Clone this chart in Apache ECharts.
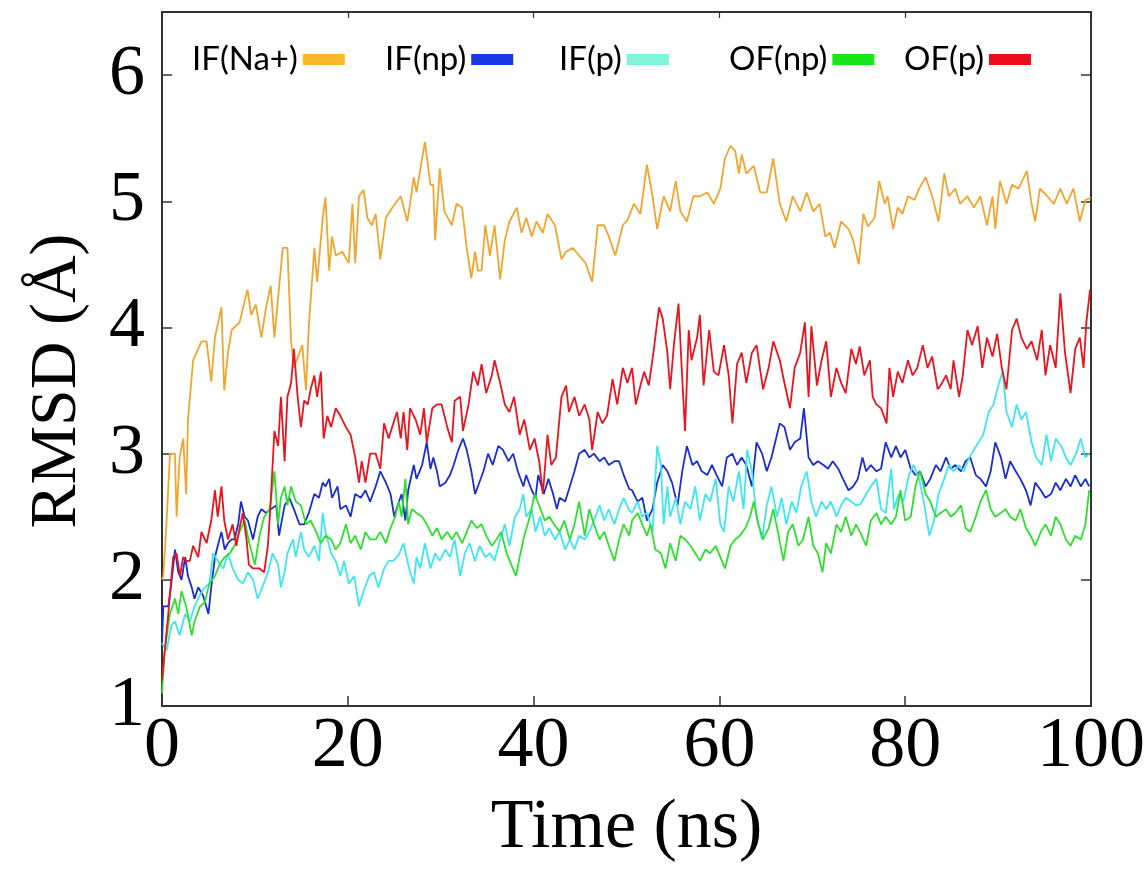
<!DOCTYPE html>
<html>
<head>
<meta charset="utf-8">
<script src="https://cdn.jsdelivr.net/npm/echarts@6/dist/echarts.min.js"></script>
<style>
  html, body { margin: 0; padding: 0; background: #fff; }
  #chart { width: 1148px; height: 869px; }
</style>
</head>
<body>
<div id="chart"></div>
<script>
// RMSD traces, [time (ns), RMSD (Å)]
const ifNaPlus = [[0,2.0],[0.14,2.03],[0.5,2.47],[0.86,3.0],[1.39,3.0],[1.57,2.5],[1.9,2.97],[2.28,3.12],[2.6,2.68],[2.8,3.27],[3.35,3.74],[3.9,3.83],[4.25,3.89],[4.8,3.89],[5.3,3.57],[5.7,3.92],[6.4,4.16],[6.7,3.5],[7.1,3.8],[7.5,3.98],[8.35,4.04],[9.2,4.3],[9.6,4.1],[10.1,4.18],[10.7,3.92],[11.2,4.16],[11.7,4.33],[12.1,3.92],[13,4.63],[13.5,4.63],[13.9,3.89],[14.2,3.68],[14.8,3.8],[15.1,3.86],[15.5,3.5],[15.8,4.01],[16.4,4.63],[16.7,4.36],[17.3,4.87],[17.6,5.03],[18,4.45],[18.3,4.72],[18.7,4.57],[19.4,4.6],[20.1,4.51],[20.5,4.98],[20.8,4.51],[21.2,5.04],[21.7,5.09],[22.1,4.87],[22.6,4.81],[23,4.9],[23.5,4.54],[24.1,4.87],[24.8,4.95],[25.7,5.04],[26.4,4.84],[26.7,4.98],[27.1,5.19],[27.4,5.07],[28,5.34],[28.3,5.47],[28.5,5.46],[28.9,5.13],[29.2,5.13],[29.4,4.69],[29.9,5.26],[30.4,4.92],[31.2,4.81],[31.7,4.98],[32.3,4.95],[32.8,4.63],[33.3,4.39],[33.7,4.6],[34,4.45],[34.4,4.45],[34.8,4.81],[35.3,4.57],[35.8,4.81],[36.4,4.38],[36.9,4.69],[37.4,4.84],[38.2,4.95],[38.7,4.75],[39.2,4.87],[39.8,4.72],[40.3,4.84],[41,4.75],[41.5,4.9],[42.3,4.81],[43,4.54],[43.5,4.6],[44.2,4.63],[44.9,4.57],[45.6,4.51],[46.3,4.36],[46.9,4.81],[47.6,4.81],[48.1,4.72],[48.8,4.57],[49.6,4.81],[50.1,4.85],[50.8,4.98],[51.5,4.9],[52.2,5.29],[52.8,5.04],[53.3,4.78],[54,5.04],[54.7,4.92],[55.3,5.16],[55.8,4.92],[56.5,4.84],[57.2,5.04],[57.9,5.04],[58.7,5.07],[59.4,4.98],[60.1,5.1],[60.6,5.34],[61.2,5.44],[61.7,5.4],[62.1,5.22],[62.4,5.37],[62.9,5.22],[63.7,5.28],[64.4,5.07],[65.1,5.07],[65.8,5.34],[66.5,4.98],[67.2,4.84],[67.9,5.04],[68.7,4.92],[69.4,5.07],[70.1,4.92],[70.8,4.98],[71.4,4.72],[71.9,4.75],[72.4,4.63],[73.1,4.84],[73.9,4.78],[74.4,4.69],[75,4.5],[75.5,4.9],[76,4.8],[76.7,4.87],[77.2,5.16],[77.8,4.98],[78.1,5.04],[78.7,4.78],[79.2,4.95],[79.7,4.9],[80.3,5.04],[81,5.01],[81.5,5.1],[82.2,5.19],[82.9,5.04],[83.6,4.84],[84.2,5.22],[84.7,5.04],[85.4,5.1],[85.9,4.98],[86.7,5.04],[87.4,4.95],[88.1,5.04],[88.8,4.81],[89.4,5.04],[89.7,4.78],[90.2,5.16],[90.9,4.98],[91.5,5.13],[92.2,5.1],[93.1,5.24],[93.6,4.98],[94,4.84],[94.5,5.1],[95.3,5.04],[96,4.98],[96.7,5.1],[97.4,4.98],[98.1,5.1],[98.8,4.84],[99.4,5.01],[100,5.03]];

const ifNp = [[0,1.5],[0.14,1.79],[0.68,1.79],[1,1.97],[1.4,2.24],[1.75,2.06],[2.1,2.0],[2.5,2.18],[2.8,2.03],[3.2,1.94],[3.5,1.85],[3.9,1.94],[4.4,1.88],[5,1.73],[5.3,1.94],[5.7,2.18],[6,2.27],[6.4,2.38],[6.75,2.24],[7.1,2.29],[7.5,2.32],[7.8,2.32],[8.2,2.44],[8.5,2.62],[8.9,2.5],[9.25,2.47],[9.8,2.32],[10.3,2.5],[10.7,2.56],[11.2,2.53],[11.7,2.56],[12.3,2.59],[12.6,2.35],[13.2,2.59],[13.7,2.65],[14.2,2.56],[14.8,2.44],[15.3,2.44],[15.8,2.53],[16.4,2.68],[16.9,2.65],[17.3,2.77],[17.6,2.74],[18,2.8],[18.3,2.65],[18.9,2.74],[19.2,2.56],[19.8,2.59],[20.3,2.5],[20.8,2.68],[21.4,2.65],[21.9,2.71],[22.4,2.62],[23,2.74],[23.5,2.86],[24.1,2.77],[24.6,2.68],[25,2.5],[25.5,2.62],[25.8,2.68],[26.2,2.47],[26.5,2.71],[27.1,2.91],[27.4,2.8],[28,2.91],[28.5,3.09],[28.9,2.88],[29.2,2.97],[29.6,2.86],[29.9,2.74],[30.5,2.77],[31,2.83],[31.4,2.91],[31.9,3.03],[32.4,3.12],[32.8,3.03],[33.3,2.86],[33.7,2.68],[34,2.74],[34.6,2.86],[35.1,3.0],[35.6,2.91],[36.2,3.06],[36.7,3.03],[37.3,2.94],[37.8,3.0],[38.3,2.86],[38.9,2.74],[39.2,2.83],[39.8,2.71],[40.2,2.65],[40.5,2.83],[41.1,2.68],[41.6,2.8],[42.1,2.68],[42.5,2.56],[42.8,2.65],[43.4,2.62],[43.9,2.74],[44.4,2.86],[44.9,3.0],[45.5,3.03],[46,2.97],[46.5,3.0],[47.1,2.94],[47.6,2.97],[48.1,2.91],[48.7,2.94],[49.2,2.94],[49.7,2.83],[50.3,2.72],[50.6,2.71],[51.2,2.62],[51.7,2.65],[52.2,2.47],[52.8,2.56],[53.3,2.77],[53.9,2.91],[54.4,2.86],[54.9,2.77],[55.5,2.59],[56,2.86],[56.5,3.06],[57.1,2.91],[57.6,2.94],[58.1,2.86],[58.7,2.83],[59.2,2.91],[59.7,2.83],[60.3,2.74],[60.8,2.97],[61.4,3.0],[61.9,2.91],[62.4,2.97],[62.9,2.91],[63.5,2.74],[64,3.09],[64.6,3.0],[65.1,2.86],[65.6,2.97],[66.2,3.15],[66.5,3.24],[67,3.21],[67.6,3.03],[68.1,3.09],[68.7,3.12],[69.1,3.36],[69.6,2.97],[70.1,2.91],[70.6,2.94],[71.2,2.91],[71.7,2.88],[72.2,2.94],[72.8,2.88],[73.3,2.8],[73.9,2.71],[74.4,2.74],[74.9,2.8],[75.4,2.97],[75.8,2.86],[76.3,2.91],[76.9,2.86],[77.4,2.88],[77.9,3.09],[78.5,2.97],[79,3.06],[79.5,2.97],[80,3.03],[80.6,2.88],[81.1,2.83],[81.6,2.86],[82.2,2.74],[82.7,2.8],[83.3,2.91],[83.8,2.86],[84.4,2.97],[84.9,2.88],[85.4,2.91],[86,2.86],[86.5,2.94],[87,2.97],[87.6,2.83],[88.1,2.8],[88.7,2.74],[89.2,2.86],[89.7,3.09],[90.3,2.97],[90.8,2.8],[91.3,2.94],[91.9,2.86],[92.4,2.8],[93,2.71],[93.5,2.59],[94,2.77],[94.6,2.71],[95.1,2.65],[95.7,2.68],[96.2,2.77],[96.7,2.71],[97.3,2.8],[97.8,2.74],[98.3,2.83],[98.9,2.74],[99.4,2.8],[99.8,2.74]];

const ifP = [[0,1.5],[0.5,1.44],[1,1.64],[1.4,1.67],[1.9,1.56],[2.5,1.73],[3,1.67],[3.5,1.79],[4.1,1.88],[4.6,1.94],[5.1,1.97],[5.5,2.21],[6,2.15],[6.6,2.09],[7.1,2.21],[7.6,2.09],[8.2,2.0],[8.7,1.97],[9.25,2.06],[9.8,2.0],[10.3,1.85],[10.8,1.94],[11.4,2.06],[11.9,2.21],[12.5,2.12],[12.8,1.94],[13.2,2.06],[13.5,2.21],[14.1,2.32],[14.4,2.18],[14.95,2.38],[15.3,2.24],[15.8,2.18],[16.4,2.27],[16.9,2.15],[17.3,2.53],[17.6,2.38],[18.2,2.21],[18.7,2.15],[19.2,2.03],[19.6,2.15],[20.1,1.97],[20.7,2.03],[21.2,1.79],[21.7,1.91],[22.3,2.03],[22.8,2.06],[23.3,1.94],[23.9,2.09],[24.4,2.15],[24.9,2.15],[25.5,2.2],[26,2.29],[26.5,2.12],[27.1,1.97],[27.4,2.18],[27.8,2.09],[28.3,2.29],[28.9,2.09],[29.4,2.21],[29.9,2.15],[30.5,2.24],[31,2.18],[31.5,2.32],[32.1,2.03],[32.6,2.21],[33.1,2.29],[33.7,2.15],[34.2,2.27],[34.8,2.18],[35.3,2.21],[35.8,2.15],[36.4,2.32],[36.9,2.44],[37.4,2.27],[38,2.5],[38.5,2.56],[38.9,2.68],[39.2,2.5],[39.8,2.56],[40.2,2.38],[40.7,2.5],[41.2,2.35],[41.7,2.41],[42.3,2.32],[42.8,2.38],[43.4,2.24],[43.9,2.32],[44.4,2.24],[44.9,2.35],[45.5,2.32],[46,2.38],[46.5,2.47],[47.1,2.59],[47.6,2.47],[48.1,2.56],[48.7,2.44],[49.2,2.56],[49.7,2.65],[50.3,2.55],[50.6,2.53],[51.2,2.62],[51.7,2.5],[52.2,2.53],[52.8,2.38],[53.3,3.06],[53.7,2.91],[54,2.44],[54.4,2.74],[54.7,2.5],[55.3,2.65],[55.8,2.44],[56.3,2.62],[56.9,2.56],[57.4,2.74],[57.9,2.47],[58.5,2.68],[59,2.62],[59.6,2.8],[60.1,2.44],[60.5,2.38],[61,2.74],[61.5,2.62],[62.1,2.86],[62.6,2.56],[63,3.03],[63.5,2.86],[64,2.5],[64.6,2.32],[65.1,2.59],[65.6,2.74],[66.2,2.5],[66.7,2.65],[67.2,2.44],[67.8,2.62],[68.3,2.53],[68.8,2.74],[69.4,2.86],[69.9,2.62],[70.4,2.5],[71,2.62],[71.5,2.56],[72,2.62],[72.6,2.5],[73.1,2.59],[73.6,2.65],[74.2,2.62],[74.7,2.59],[75.2,2.6],[75.8,2.68],[76.3,2.74],[76.9,2.8],[77.4,2.56],[77.9,2.53],[78.5,2.88],[78.8,2.56],[79.3,2.68],[79.8,2.62],[80.4,2.83],[80.9,2.91],[81.5,2.8],[82,2.62],[82.6,2.35],[83.1,2.47],[83.6,2.68],[84.2,2.8],[84.7,2.91],[85.2,2.86],[85.8,2.91],[86.3,2.86],[86.9,2.97],[87.4,3.03],[87.9,3.09],[88.4,3.15],[89,3.33],[89.5,3.39],[90.1,3.56],[90.5,3.65],[90.9,3.33],[91.5,3.21],[92,3.39],[92.5,3.27],[93,3.33],[93.6,3.09],[94.1,2.97],[94.7,2.91],[95.2,3.15],[95.7,2.94],[96.2,3.12],[96.8,3.06],[97.3,2.97],[97.8,2.91],[98.4,3.0],[98.9,3.12],[99.4,2.97],[99.8,3.0]];

const ofNp = [[0,1.1],[0.3,1.44],[0.85,1.73],[1.4,1.85],[1.75,1.73],[2.1,1.91],[2.6,1.79],[3.2,1.56],[3.5,1.67],[4.1,1.79],[4.6,1.82],[5.1,1.97],[5.7,2.03],[6.2,2.12],[6.75,2.18],[7.3,2.21],[7.8,2.27],[8.35,2.38],[8.9,2.47],[9.4,2.29],[10,2.12],[10.5,2.35],[11,2.5],[11.6,2.56],[12.1,2.86],[12.5,2.44],[12.8,2.65],[13.2,2.74],[13.5,2.59],[13.9,2.74],[14.4,2.62],[14.95,2.59],[15.5,2.44],[16,2.47],[16.6,2.38],[17.1,2.29],[17.6,2.35],[18.2,2.32],[18.7,2.24],[19.2,2.29],[19.8,2.44],[20.3,2.29],[20.8,2.35],[21.4,2.24],[21.9,2.38],[22.4,2.32],[23,2.32],[23.5,2.38],[24.1,2.29],[24.6,2.41],[25.1,2.5],[25.5,2.62],[25.8,2.5],[26.2,2.8],[26.5,2.44],[26.9,2.56],[27.4,2.53],[28,2.5],[28.5,2.44],[29.1,2.35],[29.6,2.41],[30.1,2.32],[30.7,2.38],[31.2,2.32],[31.7,2.38],[32.3,2.29],[32.8,2.38],[33.3,2.47],[33.9,2.41],[34.4,2.44],[34.9,2.35],[35.5,2.27],[36,2.32],[36.5,2.38],[37.1,2.21],[37.6,2.12],[38.1,2.03],[38.5,2.18],[39,2.35],[39.6,2.5],[40.1,2.68],[40.6,2.59],[41.2,2.47],[41.7,2.5],[42.2,2.44],[42.8,2.38],[43.3,2.47],[43.9,2.32],[44.4,2.44],[44.9,2.62],[45.5,2.35],[46,2.56],[46.5,2.44],[47.1,2.32],[47.6,2.38],[48.1,2.27],[48.7,2.15],[49.2,2.32],[49.7,2.44],[50.3,2.35],[50.6,2.47],[51.2,2.53],[51.7,2.44],[52.2,2.35],[52.6,2.44],[53.1,2.24],[53.7,2.21],[54.2,2.09],[54.7,2.29],[55.3,2.15],[55.8,2.35],[56.3,2.32],[56.9,2.27],[57.4,2.21],[57.9,2.15],[58.5,2.24],[59,2.21],[59.6,2.27],[60.1,2.18],[60.6,2.09],[61.2,2.27],[61.7,2.32],[62.2,2.35],[62.8,2.41],[63.3,2.5],[63.7,2.62],[64.2,2.44],[64.7,2.32],[65.3,2.41],[65.8,2.56],[66.3,2.38],[66.9,2.15],[67.4,2.38],[67.9,2.44],[68.5,2.27],[69,2.32],[69.6,2.5],[70.1,2.27],[70.6,2.21],[71.1,2.06],[71.5,2.29],[72,2.21],[72.6,2.44],[73.1,2.38],[73.6,2.5],[74.2,2.35],[74.7,2.44],[75.2,2.37],[75.8,2.27],[76.3,2.47],[76.9,2.53],[77.4,2.44],[77.9,2.5],[78.5,2.44],[79,2.5],[79.5,2.71],[80,2.47],[80.6,2.5],[81.1,2.74],[81.6,2.86],[82.2,2.68],[82.7,2.62],[83.3,2.5],[83.8,2.53],[84.4,2.56],[84.9,2.5],[85.4,2.53],[86,2.59],[86.5,2.41],[87,2.38],[87.6,2.5],[88.1,2.62],[88.7,2.71],[89.2,2.56],[89.7,2.5],[90.3,2.53],[90.8,2.56],[91.3,2.5],[91.9,2.47],[92.4,2.56],[93,2.41],[93.5,2.35],[94,2.27],[94.6,2.38],[95.1,2.44],[95.7,2.35],[96.2,2.5],[96.7,2.44],[97.3,2.32],[97.8,2.27],[98.3,2.35],[98.9,2.32],[99.4,2.44],[99.8,2.71]];

const ofP = [[0,1.2],[0.14,1.32],[0.68,1.73],[1.2,2.18],[1.57,2.21],[1.93,2.03],[2.28,2.18],[2.6,2.15],[3,2.15],[3.35,2.27],[3.9,2.18],[4.25,2.38],[4.8,2.29],[5.3,2.47],[5.7,2.71],[6,2.5],[6.4,2.74],[6.7,2.47],[7.1,2.32],[7.6,2.44],[8,2.27],[8.35,2.41],[8.7,2.53],[9.1,2.32],[9.35,2.12],[9.8,2.09],[10.5,2.09],[11,2.06],[11.4,2.27],[11.7,2.62],[12.1,3.18],[12.5,3.06],[12.8,3.45],[13.2,2.94],[13.5,3.45],[13.9,3.56],[14.2,3.83],[14.6,3.45],[14.95,3.21],[15.3,3.42],[15.7,3.39],[16,3.51],[16.4,3.62],[16.7,3.45],[17.1,3.65],[17.4,3.12],[17.8,3.3],[18.2,3.21],[18.7,3.36],[19.2,3.3],[19.8,3.21],[20.3,3.15],[20.8,2.97],[21.2,2.77],[21.5,2.94],[21.9,2.77],[22.4,3.0],[23,3.0],[23.5,2.88],[23.9,3.24],[24.4,3.12],[24.9,3.24],[25.3,3.33],[25.7,3.12],[26,3.33],[26.4,3.03],[26.7,3.36],[27.3,3.27],[27.8,3.15],[28.2,3.36],[28.5,3.09],[29.1,3.36],[29.6,3.39],[30.1,3.39],[30.7,3.21],[31.2,3.09],[31.5,3.42],[32.1,3.45],[32.4,3.18],[33,3.39],[33.5,3.65],[34,3.54],[34.4,3.71],[34.9,3.48],[35.5,3.62],[35.8,3.74],[36.4,3.56],[36.9,3.39],[37.4,3.33],[37.9,3.45],[38.5,3.15],[39,3.27],[39.6,3.03],[40.1,3.12],[40.6,2.94],[41,2.68],[41.5,3.15],[41.9,2.91],[42.4,2.97],[43,3.45],[43.5,3.54],[43.8,3.33],[44.4,3.45],[44.9,3.3],[45.5,3.39],[46,3.27],[46.3,3.03],[46.9,3.33],[47.4,3.24],[47.9,3.3],[48.5,3.59],[49,3.39],[49.6,3.68],[50.1,3.56],[50.6,3.68],[51,3.39],[51.5,3.54],[51.9,3.65],[52.4,3.54],[52.9,3.8],[53.5,4.16],[53.9,4.07],[54.4,3.8],[54.7,3.51],[55.1,3.86],[55.6,4.19],[55.9,3.74],[56.3,3.18],[56.7,3.98],[57,3.74],[57.6,3.92],[57.9,4.1],[58.3,3.54],[58.9,3.98],[59.4,3.65],[59.9,3.62],[60.5,3.86],[61,3.62],[61.4,3.24],[61.9,3.71],[62.4,3.8],[62.9,3.56],[63.5,3.8],[64,3.86],[64.7,3.51],[65.3,3.68],[65.8,3.89],[66.5,3.74],[67,3.56],[67.6,3.36],[68.1,3.68],[68.7,3.8],[69.2,4.04],[69.6,3.45],[69.9,4.01],[70.5,3.54],[71,3.74],[71.5,3.89],[72,3.45],[72.6,3.68],[73.1,3.56],[73.6,3.48],[74.2,3.83],[74.7,3.71],[75.1,3.85],[75.6,3.62],[76.2,3.74],[76.5,3.45],[76.9,3.39],[77.4,3.36],[78,3.24],[78.3,3.68],[78.7,3.45],[79.2,3.65],[79.7,3.56],[80.3,3.74],[80.8,3.62],[81.3,3.68],[81.9,3.86],[82.4,3.68],[82.9,3.77],[83.5,3.51],[83.8,3.54],[84.4,3.62],[84.9,3.51],[85.2,3.74],[85.8,3.45],[86.2,3.62],[86.7,3.98],[87.2,3.86],[87.8,4.01],[88.3,3.68],[88.8,3.92],[89.4,3.77],[89.9,3.95],[90.4,3.68],[90.9,3.51],[91.5,3.98],[92,4.07],[92.5,3.92],[93.1,3.83],[93.6,3.89],[94.2,3.74],[94.7,3.98],[95.1,3.62],[95.6,3.86],[96.2,3.68],[96.7,4.27],[97.2,3.8],[97.8,3.48],[98.3,3.83],[98.8,3.92],[99.2,3.68],[99.5,4.04],[99.9,4.3]];

const seriesNames = ['IF(Na+)', 'IF(np)', 'IF(p)', 'OF(np)', 'OF(p)'];
const seriesData = [ifNaPlus, ifNp, ifP, ofNp, ofP];
const lineColors = ['#f2a52e', '#1a2cd6', '#3ee6f2', '#2ee02e', '#e8141e'];
const keyColors = ['#fbb829', '#1838e6', '#7ff3dc', '#18e618', '#ee0b1c'];
const keyLeft = [192, 385, 559, 729, 904];

const serif = 'Liberation Serif, Times New Roman, serif';
const frame = '#333333';

const chart = echarts.init(document.getElementById('chart'), null, { renderer: 'canvas' });

const axisCommon = {
  axisLine: { show: true, onZero: false, lineStyle: { color: frame, width: 2 } },
  splitLine: { show: false }
};

chart.setOption({
  animation: false,
  backgroundColor: '#ffffff',
  grid: { left: 162, top: 12, width: 934, height: 700 },
  legend: seriesNames.map((name, i) => ({
    data: [{ name: name, itemStyle: { color: keyColors[i], borderWidth: 0 } }],
    left: keyLeft[i],
    top: 43,
    padding: 0,
    align: 'right',
    icon: 'rect',
    itemWidth: 42,
    itemHeight: 11,
    selectedMode: false,
    textStyle: { fontFamily: 'Lato, sans-serif', fontSize: 33, color: '#000' }
  })),
  xAxis: [
    Object.assign({
      type: 'value', min: 0, max: 100, interval: 20, position: 'bottom',
      axisTick: { inside: true, length: 10, lineStyle: { color: frame, width: 1.5 } },
      axisLabel: { fontFamily: serif, fontSize: 72, color: '#000', margin: 5 },
      name: 'Time (ns)', nameLocation: 'middle', nameGap: 88,
      nameTextStyle: { fontFamily: serif, fontSize: 70, color: '#000' }
    }, axisCommon),
    Object.assign({
      type: 'value', min: 0, max: 100, interval: 20, position: 'top',
      axisTick: { inside: true, length: 6, lineStyle: { color: frame, width: 1.2 } },
      axisLabel: { show: false }
    }, axisCommon)
  ],
  yAxis: [
    Object.assign({
      type: 'value', min: 1, max: 6.5, interval: 1, position: 'left',
      axisTick: { inside: true, length: 10, lineStyle: { color: frame, width: 1.5 } },
      axisLabel: { fontFamily: serif, fontSize: 72, color: '#000', margin: 17, showMaxLabel: false }
    }, axisCommon),
    Object.assign({
      type: 'value', min: 1, max: 6.5, interval: 1, position: 'right',
      axisTick: { inside: true, length: 10, lineStyle: { color: frame, width: 1.5 } },
      axisLabel: { show: false }
    }, axisCommon)
  ],
  graphic: [{
    type: 'text',
    x: 58, y: 381,
    rotation: Math.PI / 2,
    style: {
      text: 'RMSD (Å)',
      font: '66px ' + serif,
      fill: '#000',
      align: 'center',
      verticalAlign: 'middle'
    }
  }],
  series: seriesNames.map((name, i) => ({
    name: name,
    type: 'line',
    data: seriesData[i],
    showSymbol: false,
    symbol: 'none',
    silent: true,
    color: lineColors[i],
    lineStyle: { color: lineColors[i], width: 1.8 },
    z: 2 + i
  }))
});
</script>
</body>
</html>
